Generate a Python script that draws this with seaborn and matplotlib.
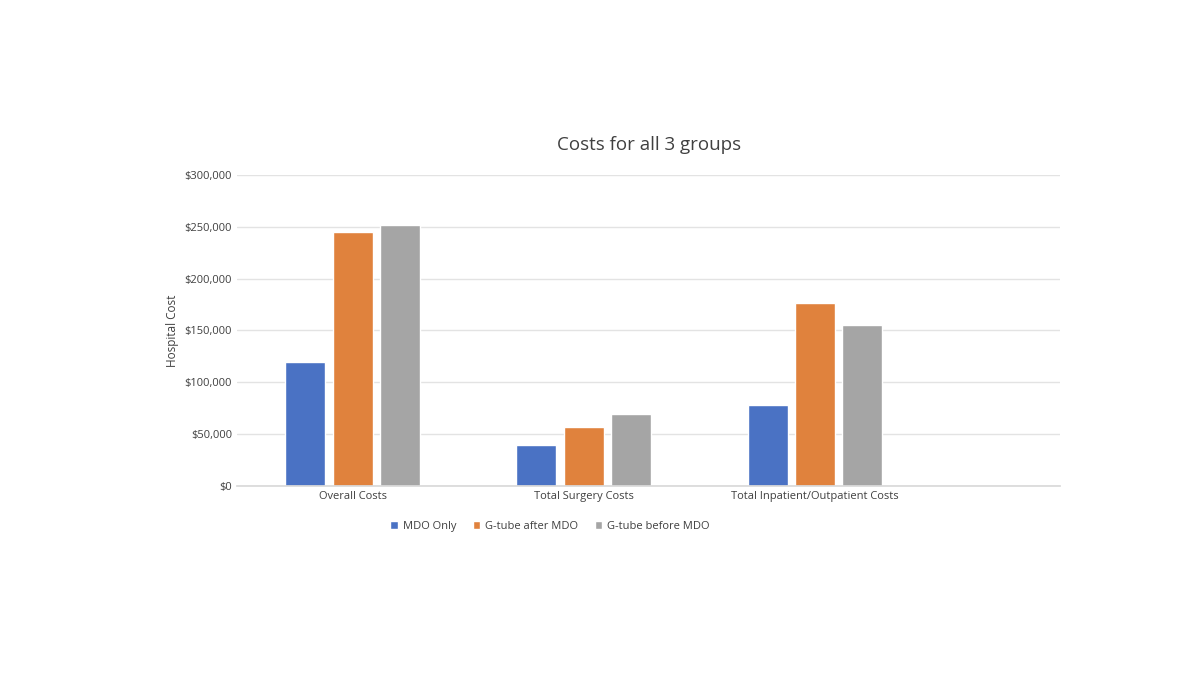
import matplotlib
matplotlib.use("Agg")
import matplotlib.pyplot as plt
import pandas as pd
import seaborn as sns
from matplotlib.ticker import FuncFormatter

CATEGORIES = ["Overall Costs", "Total Surgery Costs", "Total Inpatient/Outpatient Costs"]
GROUPS = ["MDO Only", "G-tube after MDO", "G-tube before MDO"]
MDO_ONLY = [120000, 40000, 78000]
GTUBE_AFTER = [245000, 57000, 176000]
GTUBE_BEFORE = [252000, 69000, 155000]
COLORS = ["#4A72C4", "#E0823D", "#A5A5A5"]

rows = []
for group, values in zip(GROUPS, [MDO_ONLY, GTUBE_AFTER, GTUBE_BEFORE]):
    for cat, v in zip(CATEGORIES, values):
        rows.append({"category": cat, "group": group, "cost": v})
df = pd.DataFrame(rows)

sns.set_theme(style="white")
plt.rcParams["font.family"] = ["Open Sans", "DejaVu Sans"]

fig = plt.figure(figsize=(12, 6.75), dpi=100)
ax = fig.add_axes([0.1975, 0.28, 0.686, 0.461])
sns.barplot(data=df, x="category", y="cost", hue="group", palette=COLORS,
            width=0.615, ax=ax, saturation=1)

# Excel-style gaps between bars
bar_w = 0.173
for container in ax.containers:
    for patch in container:
        cx = patch.get_x() + patch.get_width() / 2
        patch.set_x(cx - bar_w / 2)
        patch.set_width(bar_w)

ax.set_xlim(-0.5, 3.06)
ax.set_ylim(0, 300000)
ax.set_yticks(range(0, 300001, 50000))
ax.yaxis.set_major_formatter(FuncFormatter(lambda v, _: f"${v:,.0f}"))
ax.grid(axis="y", color="#E3E3E3", linewidth=1)
ax.set_axisbelow(True)
for side in ["top", "right", "left"]:
    ax.spines[side].set_visible(False)
ax.spines["bottom"].set_color("#D9D9D9")
ax.tick_params(axis="both", labelsize=8, colors="#404040", length=0)
ax.set_xlabel("")
ax.set_ylabel("Hospital Cost", fontsize=8.5, color="#404040")
ax.set_title("Costs for all 3 groups", fontsize=13.5, color="#404040", pad=18)

ax.legend(loc="upper center", bbox_to_anchor=(0.38, -0.08), ncol=3, frameon=False,
          fontsize=8, handlelength=0.7, handleheight=0.7, columnspacing=1.5,
          handletextpad=0.4, labelcolor="#404040")

fig.savefig("out.png", dpi=100, facecolor="white")
